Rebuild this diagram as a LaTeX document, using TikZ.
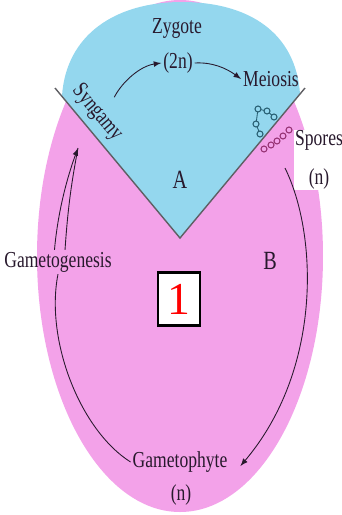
\documentclass[tikz,border=0pt]{standalone}
\usepackage{fontspec}
\setmainfont{Liberation Serif}
\usetikzlibrary{arrows, positioning, calc}
\definecolor{zygoteblue}{RGB}{148, 215, 238}
\definecolor{phytepink}{RGB}{243, 162, 233}
\definecolor{darktext}{RGB}{40, 25, 45}
\definecolor{sporeblue}{RGB}{40, 95, 115}
\definecolor{sporepurple}{RGB}{150, 50, 115}
\definecolor{edgegray}{RGB}{95, 95, 100}
\newcommand{\tallt}[1]{\scalebox{1}[1.3]{#1}}

\begin{document}
\begin{tikzpicture}[x=0.02cm, y=-0.02cm,
    lbl/.style={text=darktext, font=\fontsize{10}{12}\selectfont, inner sep=1pt},
    biglbl/.style={lbl, font=\fontsize{11.5}{13}\selectfont},
    cycarrow/.style={draw=darktext, line width=0.5pt, -latex},
    cycline/.style={draw=darktext, line width=0.5pt}]
    \useasboundingbox (0,0) rectangle (342,515);

    % life cycle background
    \fill[phytepink] (180,256) ellipse [x radius=143, y radius=256];
    \fill[zygoteblue] (62,96) .. controls (66,35) and (115,2) .. (182,2)
        .. controls (249,2) and (296,33) .. (300,94) -- (180,238) -- cycle;
    \draw[edgegray, line width=0.8pt] (55,88) -- (180,238) -- (305,88);

    % spores
    \draw[sporeblue, line width=0.5pt] (258,109) -- (267,111) -- (274,117) (258,109) -- (256,124) -- (260,134);
    \foreach \p in {(258,109),(267,111),(274,117),(256,124),(260,134)}
        \draw[sporeblue, line width=0.6pt, fill=zygoteblue] \p circle (3);
    \foreach \p in {(264,149),(271,145),(277,141),(283,136),(289,130)}
        \draw[sporepurple, line width=0.6pt, fill=phytepink] \p circle (3);

    % labels
    \node[lbl] (zygote) at (177,28) {\tallt{Zygote}};
    \node[lbl] (diploid) at (178,63) {\tallt{(2n)}};
    \node[lbl] (meiosis) at (271,79) {\tallt{Meiosis}};
    \node[lbl, rotate=-50] (syngamy) at (97,113) {\tallt{Syngamy}};
    \node[biglbl] (regA) at (180,180) {\tallt{A}};
    \node[lbl, fill=white, align=center, inner sep=0.5pt] (spores) at (319,160) {\tallt{Spores}\\[10pt]\tallt{(n)}};
    \node[biglbl] (regB) at (270,261) {\tallt{B}};
    \node[lbl] (gtgen) at (58,262) {\tallt{Gametogenesis}};
    \node[draw=black, line width=1.3pt, fill=white, minimum width=0.84cm, minimum height=1.06cm,
          inner sep=0pt, text=red, font=\fontsize{26}{26}\selectfont] (stage) at (179,299) {1};
    \node[lbl] (gphyte) at (180,462) {\tallt{Gametophyte}};
    \node[lbl] (gphyten) at (181,495) {\tallt{(n)}};

    \coordinate (sporeend) at (285,168);
    \coordinate (fusion) at (78,148);

    % cycle arrows
    \draw[cycarrow] ([shift={(8,-8)}]syngamy.north) .. controls (122,82) and (140,66) .. (diploid.west);
    \draw[cycarrow] (diploid.east) .. controls (212,62) and (226,68) .. (meiosis.west);
    \draw[cycarrow] (sporeend) .. controls (318,235) and (322,370) .. ([shift={(11,4)}]gphyte.east);
    \draw[cycline] (gphyte.west) .. controls (80,430) and (45,340) .. (gtgen.south);
    \draw[cycarrow] ([xshift=-2pt]gtgen.north) .. controls (58,210) and (68,175) .. (fusion);
    \draw[cycline] ([xshift=4pt]gtgen.north) .. controls (68,205) and (72,180) .. (fusion);
\end{tikzpicture}
\end{document}
